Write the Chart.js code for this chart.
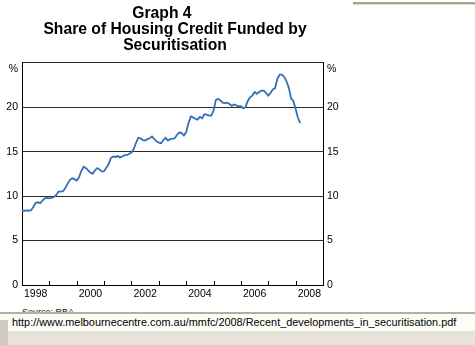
<!DOCTYPE html>
<html>
<head>
<meta charset="utf-8">
<script src="https://cdn.jsdelivr.net/npm/chart.js@4"></script>
<style>
  body { margin: 0; background: #fff; width: 475px; height: 345px; overflow: hidden; position: relative; font-family: "Liberation Sans", Arial, sans-serif; }
  .chart-box { position: absolute; left: 0; top: 0; width: 350px; height: 300px; }
  .source { position: absolute; left: 22px; top: 307px; font-size: 9px; color: #222; }
  .topline { position: absolute; left: 353px; top: 2px; width: 122px; height: 2px; background: #a6a393; border-bottom: 1px solid #dedbd0; }
  .statusbar { position: absolute; left: 0; top: 312px; width: 475px; height: 17px; background: #fdfdf8; border-top: 2px solid #b3b0a2; }
  .statusbar span { position: absolute; left: 12px; top: 2px; font-size: 10.9px; color: #000; white-space: nowrap; }
  .bottombar { position: absolute; left: 0; top: 331px; width: 475px; height: 14px; background: #e6e3d8; }
  .leftstrip { position: absolute; left: 0; top: 320px; width: 8px; height: 25px; background: #cfccc0; }
</style>
</head>
<body>
<div class="chart-box"><canvas id="myChart" width="350" height="300"></canvas></div>
<div class="source">Source: RBA</div>
<div class="topline"></div>
<div class="statusbar"><span>http://www.melbournecentre.com.au/mmfc/2008/Recent_developments_in_securitisation.pdf</span></div>
<div class="bottombar"></div>
<div class="leftstrip"></div>
<script>
// monthly, Jan 1998 to Mar 2008 (per cent)
const startYear = 1998;
const shareValues = [
  8.35, 8.35, 8.4, 8.35, 8.4, 8.8, 9.25, 9.3, 9.2, 9.5, 9.75, 9.8,
  9.75, 9.8, 9.9, 10.1, 10.5, 10.5, 10.55, 10.9, 11.4, 11.8, 12.0, 11.9,
  11.75, 12.1, 12.8, 13.3, 13.15, 12.9, 12.65, 12.5, 12.9, 13.15, 13.0, 12.75,
  12.8, 13.2, 13.6, 14.3, 14.45, 14.4, 14.5, 14.35, 14.45, 14.6, 14.6, 14.75,
  14.9, 15.3, 16.0, 16.55, 16.5, 16.3, 16.25, 16.4, 16.5, 16.7, 16.4, 16.15,
  16.0, 15.95, 16.3, 16.55, 16.25, 16.4, 16.45, 16.5, 16.9, 17.15, 17.1, 16.8,
  17.2, 18.2, 18.95, 18.85, 18.7, 18.6, 18.9, 18.75, 19.2, 19.15, 19.05, 19.05,
  19.6, 20.8, 20.95, 20.75, 20.5, 20.45, 20.5, 20.35, 20.15, 20.3, 20.2, 20.1,
  20.1, 19.85, 20.0, 20.7, 21.1, 21.3, 21.7, 21.5, 21.7, 21.85, 21.85, 21.6,
  21.3, 21.6, 22.0, 22.15, 23.2, 23.65, 23.65, 23.4, 22.9, 22.2, 21.0, 20.7,
  19.8, 18.8, 18.2
];
const yearLabels = ['1998', '2000', '2002', '2004', '2006', '2008'];
const titleLines = ['Graph 4      ', 'Share of Housing Credit Funded by', 'Securitisation'];

const points = shareValues.map((v, i) => ({ x: startYear + i / 12, y: v }));

const tickFont = { family: "'Liberation Sans', Arial, sans-serif", size: 10.5 };

const yLabel = (value) => value === 25 ? ['', '%'] : String(value);

// small year tick marks pointing up from the bottom axis
const yearTicks = {
  id: 'yearTicks',
  afterDraw: (chart) => {
    const ctx = chart.ctx;
    const xs = chart.scales.x;
    const bottom = chart.chartArea.bottom;
    ctx.save();
    ctx.strokeStyle = '#000';
    ctx.lineWidth = 1;
    for (let yr = 1999; yr <= 2008; yr++) {
      const px = Math.round(xs.getPixelForValue(yr)) + 0.5;
      ctx.beginPath();
      ctx.moveTo(px, bottom);
      ctx.lineTo(px, bottom - 4);
      ctx.stroke();
    }
    ctx.restore();
  }
};

const myChart = new Chart('myChart', {
  type: 'line',
  data: {
    datasets: [{
      data: points,
      borderColor: '#3570b5',
      borderWidth: 1.8,
      pointRadius: 0,
      tension: 0,
      fill: false
    }]
  },
  options: {
    responsive: false,
    animation: false,
    layout: { padding: 0 },
    plugins: {
      legend: { display: false },
      tooltip: { enabled: false },
      title: {
        display: true,
        text: titleLines,
        color: '#000',
        font: { family: "'Liberation Sans', Arial, sans-serif", size: 15.7, weight: 'bold', lineHeight: 1 },
        padding: { top: 6.3, bottom: 9.3 }
      }
    },
    scales: {
      x: {
        type: 'linear',
        min: 1998,
        max: 2009,
        afterFit: (s) => { s.height = 15; },
        grid: { display: false, drawTicks: false },
        border: { display: true, color: '#000', width: 1 },
        ticks: {
          stepSize: 1,
          autoSkip: false,
          maxRotation: 0,
          padding: 3,
          labelOffset: 13.7,
          color: '#000',
          font: tickFont,
          callback: (value) => yearLabels.includes(String(value)) ? String(value) : ''
        }
      },
      y: {
        position: 'left',
        min: 0,
        max: 25,
        afterFit: (s) => { s.width = 22; },
        grid: { color: '#2a2a2a', lineWidth: 1, drawTicks: false },
        border: { display: true, color: '#000', width: 1 },
        ticks: { stepSize: 5, padding: 4, color: '#000', font: tickFont, callback: yLabel }
      },
      y2: {
        position: 'right',
        min: 0,
        max: 25,
        afterFit: (s) => { s.width = 27; },
        grid: { display: false, drawTicks: false },
        border: { display: true, color: '#000', width: 1 },
        ticks: { stepSize: 5, padding: 4, color: '#000', font: tickFont, callback: yLabel }
      }
    }
  },
  plugins: [yearTicks]
});
</script>
</body>
</html>
